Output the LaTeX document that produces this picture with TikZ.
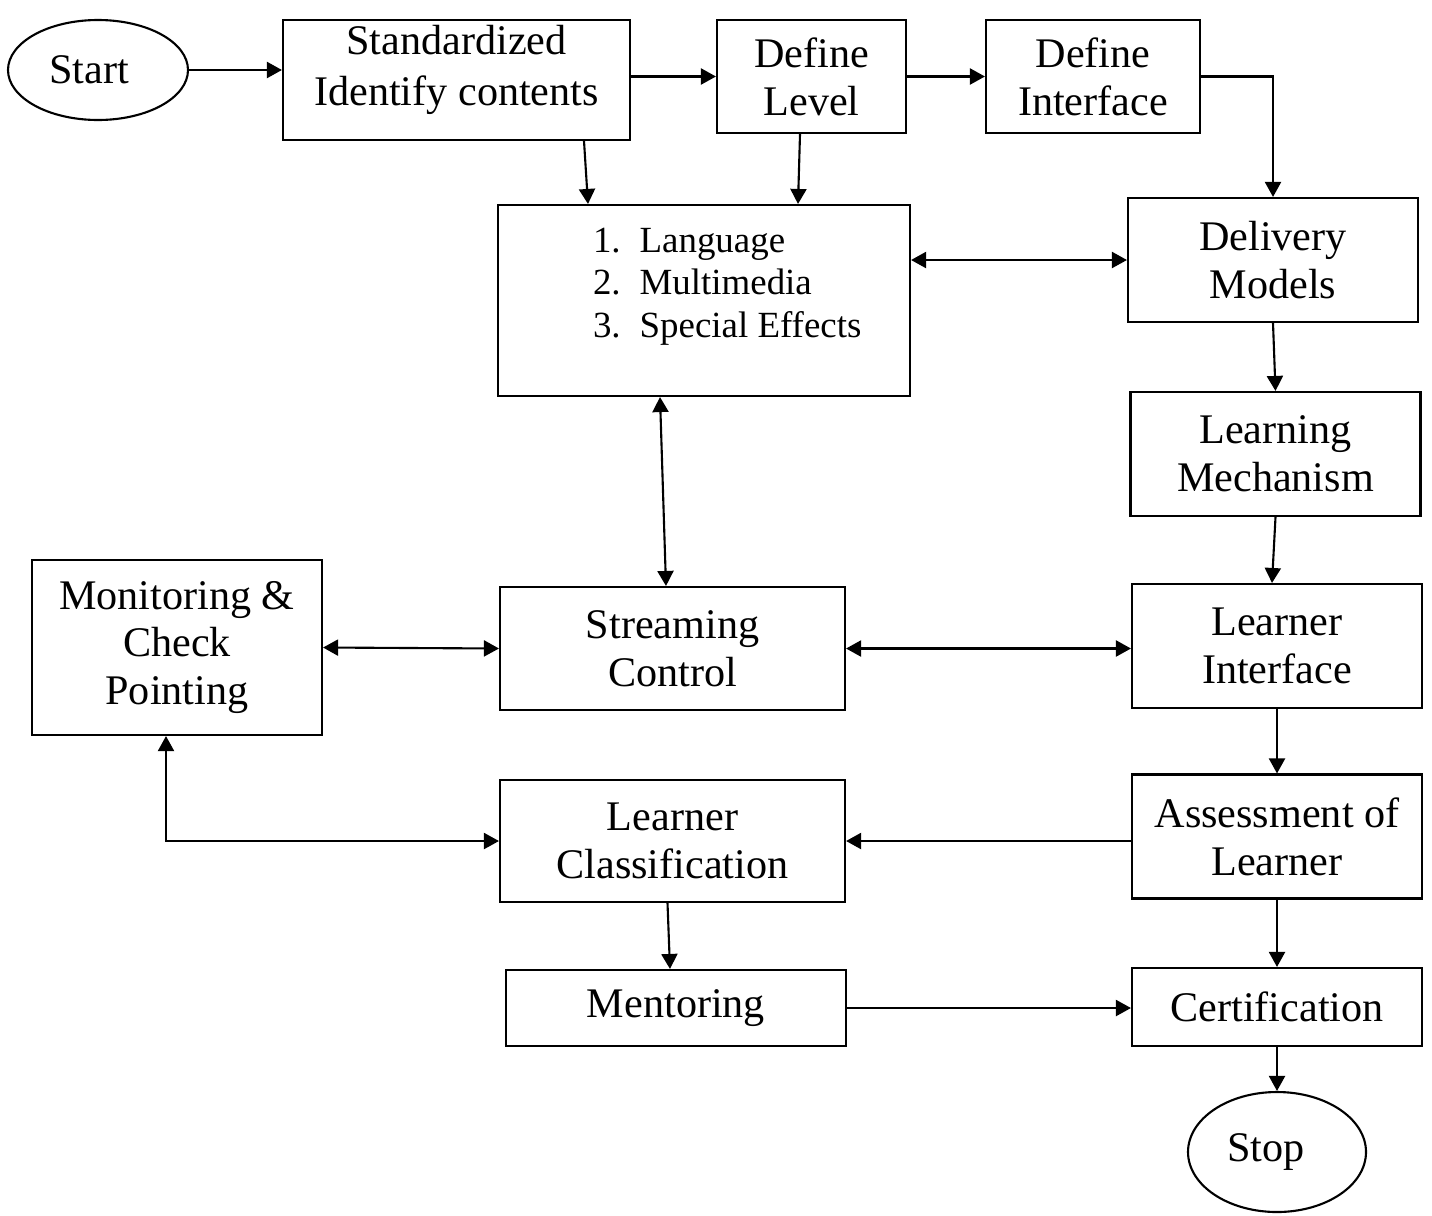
\documentclass[tikz,border=0pt]{standalone}
\usepackage{fontspec}
\setmainfont{Liberation Serif}
\usetikzlibrary{shapes.geometric,arrows.meta}

\begin{document}
\begin{tikzpicture}[>={Triangle[length=1.5mm,width=1.6mm]}, line width=0.6pt,
	txt/.style={align=center, font=\fontsize{12}{13.6}\selectfont},
	box/.style={draw, rectangle, inner sep=0pt, txt},
	term/.style={box, ellipse},
	rbox/.style={box, minimum width=2.90cm, minimum height=1.24cm}]
	
	\useasboundingbox (0,0) rectangle (14.32,-12.15);
	
	\node[term, minimum width=1.80cm, minimum height=1.00cm] (start) at (0.98,-0.70) {\hspace*{-0.18cm}Start};
	
	\node[box, minimum width=3.47cm, minimum height=1.20cm, label={[txt, inner sep=0pt, yshift=0.10cm]center:Standardized\\[0.03cm]Identify contents}] (std) at (4.565,-0.80) {};
	
	\node[box, minimum width=1.89cm, minimum height=1.13cm] (lvl) at (8.115,-0.765) {Define\\Level};
	
	\node[box, minimum width=2.14cm, minimum height=1.13cm] (ifc) at (10.93,-0.765) {Define\\Interface};
	
	\node[box, minimum width=4.12cm, minimum height=1.91cm, label={[anchor=north west, inner sep=0pt, xshift=0.95cm, yshift=-0.17cm, font=\fontsize{10.5}{12.2}\selectfont]north west:{\begin{tabular}{@{}l@{\hspace{1.9mm}}l@{}}1. & Language\\2. & Multimedia\\3. & Special Effects\end{tabular}}}] (lst) at (7.04,-3.005) {};
	
	\node[rbox] (dlv) at (12.73,-2.60) {Delivery\\Models};
	
	\node[rbox] (lmc) at (12.755,-4.54) {Learning\\Mechanism};
	
	\node[box, minimum width=2.90cm, minimum height=1.75cm] (mon) at (1.77,-6.475) {Monitoring \&\\Check\\Pointing};
	
	\node[box, minimum width=3.45cm, minimum height=1.23cm] (stm) at (6.725,-6.485) {Streaming\\Control};
	
	\node[rbox] (lif) at (12.77,-6.46) {Learner\\Interface};
	
	\node[box, minimum width=3.45cm, minimum height=1.22cm] (cls) at (6.725,-8.41) {Learner\\Classification};
	
	\node[rbox] (ass) at (12.77,-8.365) {Assessment of\\Learner};
	
	\node[box, minimum width=3.40cm, minimum height=0.76cm] (men) at (6.76,-10.08) {Mentoring};
	
	\node[rbox, minimum height=0.78cm] (crt) at (12.77,-10.07) {Certification};
	
	\node[term, minimum width=1.78cm, minimum height=1.20cm] (stp) at (12.77,-11.52) {\hspace*{-0.22cm}Stop};
	
	\draw[->] (start.east) -- (start.east -| std.west);
	\draw[->] (lvl.west -| std.east) -- (lvl.west);
	\draw[->] (lvl.east) -- (ifc.west);
	\draw[->] (ifc.east) -| (dlv.north);
	\draw[->] ([xshift=1.275cm]std.south) -- ([xshift=-1.16cm]lst.north);
	\draw[->] ([xshift=-0.115cm]lvl.south) -- ([xshift=0.94cm]lst.north);
	\draw[<->] (dlv.west -| lst.east) -- (dlv.west);
	\draw[->] (dlv.south) -- (lmc.north);
	\draw[<->] ([xshift=-0.44cm]lst.south) -- ([xshift=-0.065cm]stm.north);
	\draw[->] (lmc.south) -- ([xshift=-0.05cm]lif.north);
	\draw[<->] (mon.east) -- (stm.west);
	\draw[<->] (stm.east) -- (stm.east -| lif.west);
	\draw[->] (lif.south) -- (ass.north);
	\draw[->] (cls.east -| ass.west) -- (cls.east);
	\draw[<->] ([xshift=-0.11cm]mon.south) |- (cls.west);
	\draw[->] ([xshift=-0.05cm]cls.south) -- ([xshift=-0.06cm]men.north);
	\draw[->] (men.east) -- (men.east -| crt.west);
	\draw[->] (ass.south) -- (crt.north);
	\draw[->] (crt.south) -- (stp.north);
	
\end{tikzpicture}
\end{document}
